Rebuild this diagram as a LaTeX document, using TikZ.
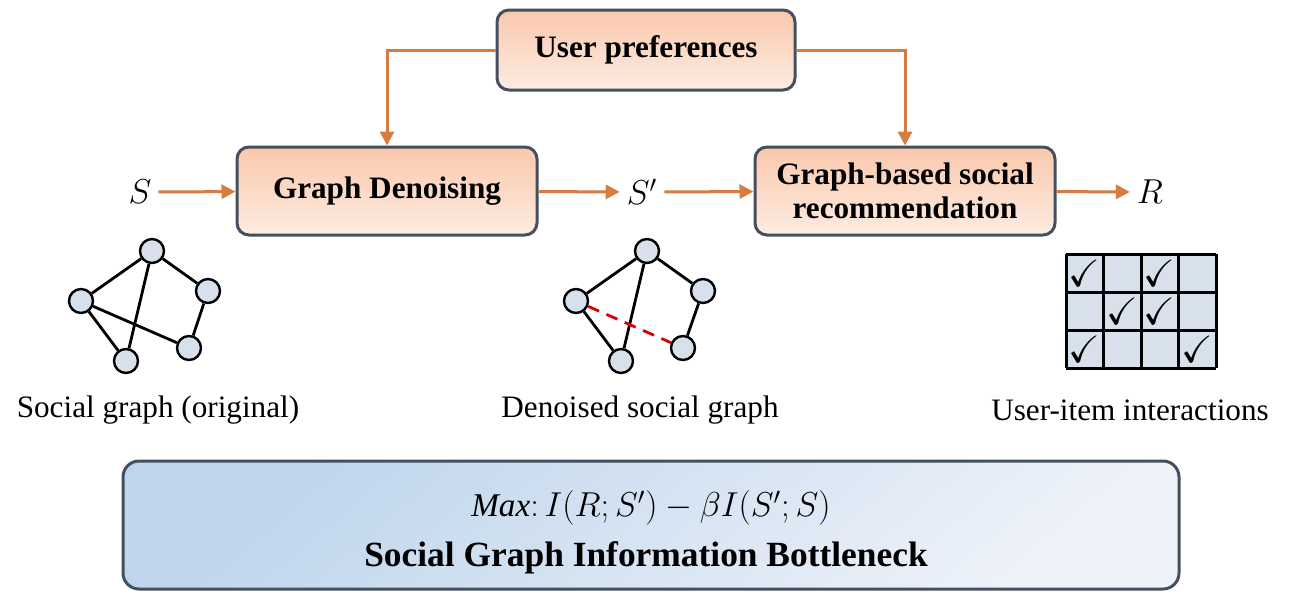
\documentclass[tikz,border=0pt]{standalone}
\usepackage{fontspec}
\usepackage{amssymb}
\setmainfont{Liberation Serif}
\usetikzlibrary{arrows.meta}

\definecolor{arrowOrange}{RGB}{214,124,64}
\definecolor{boxEdge}{RGB}{68,80,96}
\definecolor{peachTop}{RGB}{250,200,172}
\definecolor{peachBot}{RGB}{253,236,226}
\definecolor{blueA}{RGB}{190,213,236}
\definecolor{blueB}{RGB}{238,242,249}
\definecolor{vertexFill}{RGB}{214,225,236}

\tikzset{
  stepbox/.style={draw=boxEdge, line width=1.5pt, rounded corners=6pt,
    top color=peachTop, bottom color=peachBot, align=center,
    font=\fontsize{15.6}{17}\selectfont\bfseries},
  flow/.style={draw=arrowOrange, line width=1.5pt, -{Triangle[length=7pt,width=7pt]}},
  vtx/.style={circle, draw=black, line width=1.2pt, fill=vertexFill,
    minimum size=12pt, inner sep=0pt},
  edge/.style={line width=1.4pt},
  caption/.style={font=\fontsize{15.6}{17}\selectfont},
  var/.style={font=\fontsize{17}{20}\selectfont}
}

\begin{document}
\begin{tikzpicture}[x=0.5pt, y=-0.5pt]
	  \useasboundingbox (0,0) rectangle (1290,606);

	  % boxes
	  \node[stepbox, minimum width=149pt, minimum height=40pt] (pref) at (646,50) {User preferences};
	  \node[stepbox, minimum width=150pt, minimum height=44pt] (denoise) at (387,191) {Graph Denoising};
	  \node[stepbox, minimum width=150pt, minimum height=44pt] (recom) at (905,191) {Graph-based social\\recommendation};

	  % variables
	  \node[var] (s) at (140,192) {$S$};
	  \node[var] (sp) at (642,192) {$S'$};
	  \node[var] (r) at (1150,192) {$R$};

	  \draw[flow] (s) -- (denoise);
	  \draw[flow] (denoise) -- (sp);
	  \draw[flow] (sp) -- (recom);
	  \draw[flow] (recom) -- (r);
	  \draw[flow] (pref.west) -| (denoise.north);
	  \draw[flow] (pref.east) -| (recom.north);

	  % original social graph
	  \node[vtx] (a1) at (152,251) {};
	  \node[vtx] (a2) at (208,291) {};
	  \node[vtx] (a3) at (81,301) {};
	  \node[vtx] (a4) at (189,348) {};
	  \node[vtx] (a5) at (126,361) {};
	  \draw[edge] (a1) -- (a3);
	  \draw[edge] (a1) -- (a2);
	  \draw[edge] (a1) -- (a5);
	  \draw[edge] (a3) -- (a4);
	  \draw[edge] (a3) -- (a5);
	  \draw[edge] (a2) -- (a4);

	  % denoised social graph
	  \node[vtx] (b1) at (647,251) {};
	  \node[vtx] (b2) at (703,291) {};
	  \node[vtx] (b3) at (576,301) {};
	  \node[vtx] (b4) at (683,348) {};
	  \node[vtx] (b5) at (621,361) {};
	  \draw[edge] (b1) -- (b3);
	  \draw[edge] (b1) -- (b2);
	  \draw[edge] (b1) -- (b5);
	  \draw[edge] (b3) -- (b5);
	  \draw[edge] (b2) -- (b4);
	  \draw[edge, red!85!black, dash pattern=on 6pt off 4pt] (b3) -- (b4);

	  % interaction matrix
	  \fill[vertexFill] (1066,254) rectangle (1216,368);
	  \foreach \x in {1066,1103.5,1141,1178.5,1216} {
	    \draw[line width=1.5pt] (\x,254) -- (\x,368);
	  }
	  \foreach \y in {254,292,330,368} {
	    \draw[line width=1.5pt] (1066,\y) -- (1216,\y);
	  }
	  \foreach \c/\r in {0/0,2/0,1/1,2/1,0/2,3/2} {
	    \node[font=\fontsize{19}{19}\selectfont] at (1084.75+37.5*\c,273+38*\r) {$\checkmark$};
	  }

	  % captions
	  \node[caption] (capA) at (158,410) {Social graph (original)};
	  \node[caption] (capB) at (640,410) {Denoised social graph};
	  \node[caption] (capC) at (1130,410) {User-item interactions};

	  % bottleneck
	  \node[draw=boxEdge, line width=1.5pt, rounded corners=8pt, top color=blueA, bottom color=blueB,
	    shading angle=40, minimum width=528pt, minimum height=64pt] (gib) at (651,525) {};
	  \node[font=\fontsize{16.6}{18}\selectfont] (obj) at (651,508) {$\mathit{Max}\colon I(R;S') - \beta I(S';S)$};
	  \node[font=\fontsize{17.7}{19}\selectfont\bfseries] (gibtxt) at (646,558) {Social Graph Information Bottleneck};
	\end{tikzpicture}
\end{document}
